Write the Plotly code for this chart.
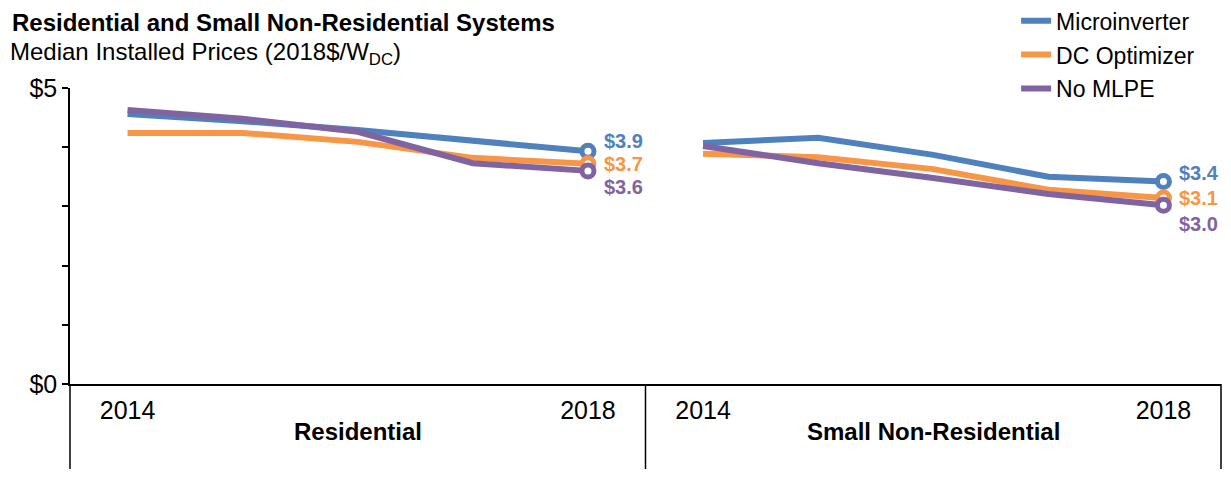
import plotly.graph_objects as go

# median installed prices, 2018$/W_DC
YEARS = [2014, 2015, 2016, 2017, 2018]
SEGMENTS = ["Residential", "Small Non-Residential"]

RES_MICRO = [4.56, 4.44, 4.29, 4.12, 3.93]
RES_DCOPT = [4.24, 4.24, 4.09, 3.82, 3.72]
RES_NOMLPE = [4.63, 4.48, 4.26, 3.73, 3.60]

SNR_MICRO = [4.07, 4.16, 3.87, 3.50, 3.42]
SNR_DCOPT = [3.89, 3.83, 3.63, 3.28, 3.14]
SNR_NOMLPE = [4.02, 3.73, 3.48, 3.21, 3.02]

SERIES = [
    ("Microinverter", RES_MICRO, SNR_MICRO, "#4F81BD"),
    ("DC Optimizer", RES_DCOPT, SNR_DCOPT, "#F79646"),
    ("No MLPE", RES_NOMLPE, SNR_NOMLPE, "#8064A2"),
]
# vertical nudge of the end-point labels so they don't collide (px)
LABEL_SHIFT = {"Microinverter": (10, 9), "DC Optimizer": (0, 0), "No MLPE": (-16, -19)}

FONT = "Liberation Sans, Arial, sans-serif"
n = len(YEARS)
x_res = list(range(n))
x_snr = [n + i for i in range(n)]

fig = go.Figure()
for name, res, snr, color in SERIES:
    fig.add_trace(go.Scatter(
        x=x_res + [None] + x_snr, y=res + [None] + snr, name=name,
        mode="lines", line=dict(color=color, width=6), legendgroup=name,
        connectgaps=False))
    fig.add_trace(go.Scatter(
        x=[x_res[-1], x_snr[-1]], y=[res[-1], snr[-1]], mode="markers",
        marker=dict(symbol="circle", size=12, color="white",
                    line=dict(color=color, width=5)),
        showlegend=False, hoverinfo="skip"))
    for xv, yv, dy in [(x_res[-1], res[-1], LABEL_SHIFT[name][0]),
                       (x_snr[-1], snr[-1], LABEL_SHIFT[name][1])]:
        fig.add_annotation(x=xv, y=yv, text=f"<b>${yv:.1f}</b>", showarrow=False,
                           xanchor="left", yanchor="middle", xshift=14, yshift=dy,
                           font=dict(size=20, color=color, family=FONT))

# segment names under the axis
for k, seg in enumerate(SEGMENTS):
    fig.add_annotation(x=k * n + (n - 1) / 2, xref="x", y=-0.162, yref="paper",
                       yanchor="middle", text=f"<b>{seg}</b>", showarrow=False,
                       font=dict(size=24, color="black", family=FONT))

# category box lines below the axis
for xp in [0, 0.5, 1]:
    fig.add_shape(type="line", xref="paper", yref="paper", x0=xp, x1=xp,
                  y0=0, y1=-0.33, line=dict(color="black", width=1.5))

fig.add_annotation(x=-0.052, xref="paper", y=1.222, yref="paper",
                   xanchor="left", yanchor="middle",
                   text="<b>Residential and Small Non-Residential Systems</b>",
                   showarrow=False, font=dict(size=24, color="black", family=FONT))
fig.add_annotation(x=-0.0535, xref="paper", y=1.118, yref="paper",
                   xanchor="left", yanchor="middle",
                   text="Median Installed Prices (2018$/W<sub>DC</sub>)",
                   showarrow=False, font=dict(size=24, color="black", family=FONT))

# page body has an 8px margin, so the figure is kept smaller than the window
fig.update_layout(
    width=1215, height=461,
    margin=dict(l=62, r=2, t=80, b=85, autoexpand=False),
    paper_bgcolor="white", plot_bgcolor="white",
    font=dict(family=FONT, size=24, color="black"),
    legend=dict(x=0.822, y=1.30, xanchor="left", yanchor="top",
                font=dict(size=23), tracegroupgap=1, bgcolor="rgba(0,0,0,0)"),
)
fig.update_xaxes(range=[-0.5, 2 * n - 0.5], showgrid=False, zeroline=False,
                 showline=True, linecolor="black", linewidth=1.5,
                 tickvals=[x_res[0], x_res[-1], x_snr[0], x_snr[-1]],
                 ticktext=[str(YEARS[0]), str(YEARS[-1])] * 2,
                 ticks="", ticklabelstandoff=3, tickfont=dict(size=25))
fig.update_yaxes(range=[0, 5], showgrid=False, zeroline=False,
                 showline=True, linecolor="black", linewidth=1.5,
                 tickvals=[0, 1, 2, 3, 4, 5], ticktext=["$0", "", "", "", "", "$5"],
                 ticks="outside", ticklen=6, tickwidth=1.5, tickcolor="black",
                 tickfont=dict(size=25))

fig.write_html("out.html")
